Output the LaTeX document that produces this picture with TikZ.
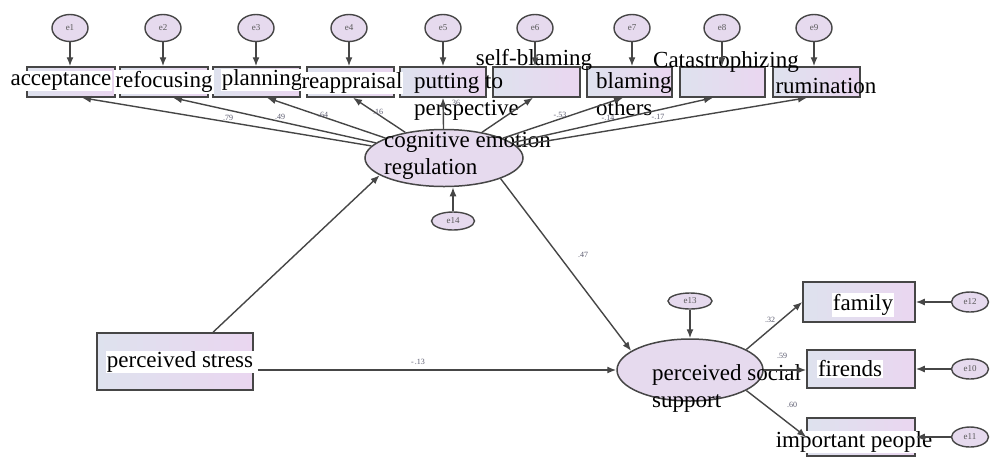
\documentclass[tikz,border=0pt]{standalone}
\usepackage{fontspec}
\setmainfont{Liberation Serif}
\usetikzlibrary{arrows.meta,shapes.geometric}
\definecolor{edge}{RGB}{70,70,70}
\definecolor{lavL}{RGB}{222,226,238}
\definecolor{lavR}{RGB}{234,214,240}
\definecolor{errfill}{RGB}{230,218,238}
\definecolor{coef}{RGB}{90,90,110}
\tikzset{
 obsbox/.style={draw=edge, line width=1.5pt, left color=lavL, right color=lavR, minimum height=30pt, inner sep=0pt},
 latent/.style={ellipse, draw=edge, line width=1.5pt, fill=errfill, inner sep=0pt},
 err/.style={ellipse, draw=edge, line width=1.4pt, fill=errfill, inner sep=0pt, font=\fontsize{9}{10}\selectfont, text=black!65},
 lbl/.style={font=\fontsize{23}{27}\selectfont, inner sep=1pt},
 lblw/.style={lbl, fill=white},
 coefl/.style={font=\fontsize{8}{9}\selectfont, text=coef, inner sep=0pt},
 arr/.style={draw=edge, line width=1.4pt, -{Latex[length=9pt,width=7pt]}},
}
\begin{document}
\begin{tikzpicture}[x=1pt,y=-1pt]
\useasboundingbox (0,0) rectangle (995,456);
% observed boxes (top)
\node[obsbox, minimum width=88pt] (b1) at (71,82) {};
\node[obsbox, minimum width=88pt] (b2) at (164,82) {};
\node[obsbox, minimum width=87pt] (b3) at (256.5,82) {};
\node[obsbox, minimum width=87pt] (b4) at (350.5,82) {};
\node[obsbox, minimum width=86pt] (b5) at (443,82) {};
\node[obsbox, minimum width=87pt] (b6) at (536.5,82) {};
\node[obsbox, minimum width=85pt] (b7) at (629.5,82) {};
\node[obsbox, minimum width=85pt] (b8) at (722.5,82) {};
\node[obsbox, minimum width=87pt] (b9) at (816.5,82) {};
% error terms (top)
\foreach \i/\x in {1/70,2/163,3/256,4/349,5/443,6/535,7/632,8/722,9/814}
  \node[err, minimum width=36pt, minimum height=27pt] (e\i) at (\x,28) {e\i};
% latent variables
\node[latent, minimum width=158pt, minimum height=57pt] (cer) at (444,158) {};
\node[err, minimum width=43pt, minimum height=18pt] (e14) at (453,221) {e14};
\node[obsbox, minimum width=156pt, minimum height=57pt] (stress) at (175,361.5) {};
\node[latent, minimum width=146pt, minimum height=62pt] (soc) at (690,370) {};
\node[err, minimum width=44pt, minimum height=16pt] (e13) at (690,301) {e13};
\node[obsbox, minimum width=112pt, minimum height=40pt] (fam) at (859,302) {};
\node[obsbox, minimum width=108pt, minimum height=38pt] (fri) at (861,369) {};
\node[obsbox, minimum width=108pt, minimum height=38pt] (imp) at (861,437) {};
\node[err, minimum width=37pt, minimum height=20pt] (e12) at (970,302) {e12};
\node[err, minimum width=37pt, minimum height=20pt] (e10) at (970,369) {e10};
\node[err, minimum width=37pt, minimum height=20pt] (e11) at (970,437) {e11};
% labels
\node[lblw] (t1) at (61,81) {acceptance};
\node[lblw] (t2) at (164,82) {refocusing};
\node[lblw] (t3) at (262,80) {planning};
\node[lblw] (t4) at (352,83) {reappraisal};
\node[lbl, align=left, anchor=west] (t5) at (413,96.5) {putting to\\perspective};
\node[lbl] (t6) at (534,60) {self-blaming};
\node[lbl, align=left, anchor=west] (t7) at (595,94) {blaming\\others};
\node[lbl] (t8) at (726,62) {Catastrophizing};
\node[lbl] (t9) at (826,86) {rumination};
\node[lbl, align=left, anchor=west] (tc) at (383,156) {cognitive emotion\\regulation};
\node[lblw] (ts) at (180,362) {perceived stress};
\node[lbl, align=left, anchor=west] (tso) at (651,388) {perceived social\\support};
\node[lblw] (tf) at (863,305) {family};
\node[lblw] (tr) at (850,369) {firends};
\node[lblw] (ti) at (854,442) {important people};
% arrows from error terms
\foreach \i in {1,...,9}
  \draw[arr] (e\i) -- (e\i |- b\i.north);
\draw[arr] (e14) -- (e14 |- cer.south);
\draw[arr] (e13) -- (soc.north);
\draw[arr] (e12) -- (fam.east);
\draw[arr] (e10) -- (fri.east);
\draw[arr] (e11) -- (imp.east);
% loadings of cognitive emotion regulation
\draw[arr] (cer) -- ([xshift=11pt]b1.south);
\draw[arr] (cer) -- ([xshift=9pt]b2.south);
\draw[arr] (cer) -- ([xshift=10.5pt]b3.south);
\draw[arr] (cer) -- ([xshift=2.5pt]b4.south);
\draw[arr] (cer) -- (b5.south);
\draw[arr] (cer) -- ([xshift=-3.5pt]b6.south);
\draw[arr] (cer) -- ([xshift=-6.5pt]b7.south);
\draw[arr] (cer) -- ([xshift=-9.5pt]b8.south);
\draw[arr] (cer) -- ([xshift=-9.5pt]b9.south);
% structural paths
\draw[arr] ([xshift=38pt]stress.north) -- (cer.195);
\draw[arr, shorten <=4pt] (stress.east |- soc.west) -- (soc.west);
\draw[arr] (cer.-20) -- (soc.162);
\draw[arr] (soc.20) -- (fam.west);
\draw[arr] (soc.east) -- (soc.east -| fri.west);
\draw[arr] (soc.-20) -- (imp.west);
% coefficients
\node[coefl] (c1) at (228,118) {.79};
\node[coefl] (c2) at (280,117) {.49};
\node[coefl] (c3) at (323,115) {.64};
\node[coefl] (c4) at (378,112) {.16};
\node[coefl] (c5) at (455,103) {.36};
\node[coefl] (c6) at (560,115) {-.53};
\node[coefl] (c7) at (608,118) {-.14};
\node[coefl] (c8) at (658,117) {-.17};
\node[coefl] (c9) at (583,255) {.47};
\node[coefl] (c10) at (418,362) {-\,.13};
\node[coefl] (c11) at (770,320) {.32};
\node[coefl] (c12) at (782,356) {.59};
\node[coefl] (c13) at (792,405) {.60};
\end{tikzpicture}
\end{document}
